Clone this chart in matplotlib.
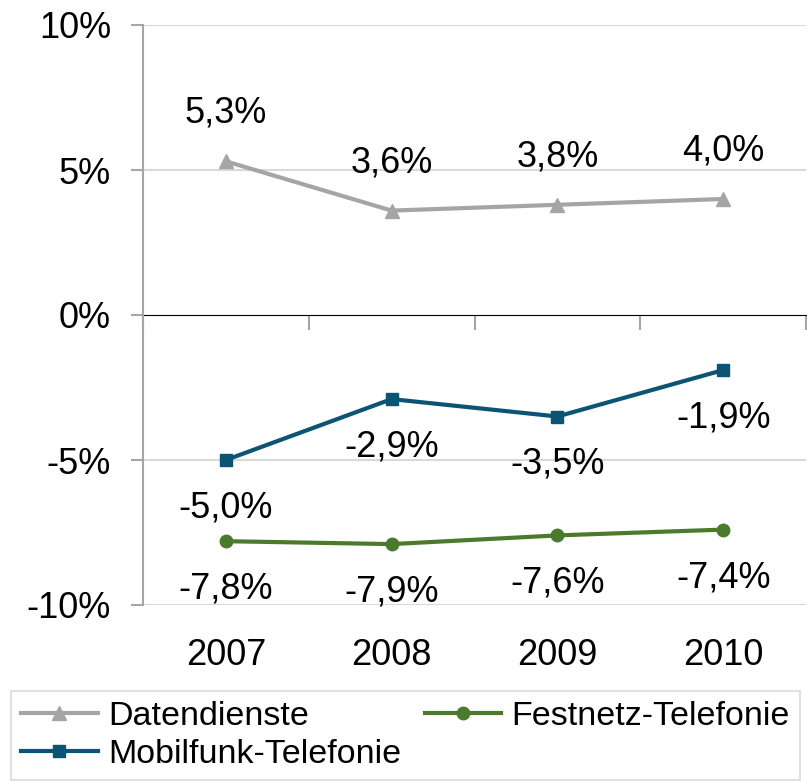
import numpy as np
import matplotlib
matplotlib.use('Agg')
import matplotlib.pyplot as plt

plt.rcParams['font.family'] = ['Liberation Sans', 'DejaVu Sans']

years = ['2007', '2008', '2009', '2010']
daten = [5.3, 3.6, 3.8, 4.0]
festnetz = [-7.8, -7.9, -7.6, -7.4]
mobilfunk = [-5.0, -2.9, -3.5, -1.9]
yticks = [-10, -5, 0, 5, 10]

C_DATEN = '#a5a5a5'
C_FEST = '#4b7a2d'
C_MOBIL = '#0c5473'
AXIS = '#a6a6a6'
GRID = '#d9d9d9'

fig = plt.figure(figsize=(8.07, 7.81), dpi=100)
ax = fig.add_axes([143 / 807, 1 - 605 / 781, 663 / 807, 580 / 781])

x = np.arange(len(years))
ax.set_xlim(-0.5, len(years) - 0.5)
ax.set_ylim(-10, 10)

# gridlines (0 line is drawn as axis)
for v in yticks:
    if v != 0:
        ax.axhline(v, color=GRID, lw=1.5, zorder=0)

l1, = ax.plot(x, daten, color=C_DATEN, lw=3, marker='^', ms=10, label='Datendienste', zorder=3)
l2, = ax.plot(x, festnetz, color=C_FEST, lw=3, marker='o', ms=9, label='Festnetz-Telefonie', zorder=3)
l3, = ax.plot(x, mobilfunk, color=C_MOBIL, lw=3, marker='s', ms=9, label='Mobilfunk-Telefonie', zorder=3)

def fmt(v):
    return f'{v:.1f}%'.replace('.', ',')

off = 34.5
for xi, v in zip(x, daten):
    ax.annotate(fmt(v), (xi, v), xytext=(0, off), textcoords='offset points',
                ha='center', va='center', fontsize=26)
for xi, v in zip(x, festnetz):
    ax.annotate(fmt(v), (xi, v), xytext=(0, -off), textcoords='offset points',
                ha='center', va='center', fontsize=26)
for xi, v in zip(x, mobilfunk):
    ax.annotate(fmt(v), (xi, v), xytext=(0, -off), textcoords='offset points',
                ha='center', va='center', fontsize=26)

# y axis
ax.set_yticks(yticks)
ax.set_yticklabels([f'{v}%' for v in yticks], fontsize=26)
ax.tick_params(axis='y', length=9, width=1.5, color=AXIS, pad=14)
for s in ['top', 'right', 'bottom']:
    ax.spines[s].set_visible(False)
ax.spines['left'].set_color(AXIS)
ax.spines['left'].set_linewidth(1.5)

# category labels at the bottom
ax.set_xticks(x)
ax.set_xticklabels(years, fontsize=26)
ax.tick_params(axis='x', length=0, pad=24)

# category axis crossing at 0%
sec = ax.secondary_xaxis(0.5)
bounds = np.arange(-0.5, len(years), 1.0)
sec.set_xticks(bounds, labels=[''] * len(bounds))
sec.tick_params(axis='x', direction='in', length=11, width=1.5, color=AXIS)
sec.spines['bottom'].set_color(AXIS)
sec.spines['bottom'].set_linewidth(1.5)

leg = fig.legend([l1, l3, l2], ['Datendienste', 'Mobilfunk-Telefonie', 'Festnetz-Telefonie'],
                 ncol=2, loc='upper left', bbox_to_anchor=(11 / 807, 1 - 691 / 781),
                 fontsize=24.5, frameon=True, fancybox=False, handlelength=2.25,
                 handletextpad=0.3, columnspacing=0.7, borderpad=0.3, labelspacing=0.2,
                 borderaxespad=0)
leg.get_frame().set_edgecolor(GRID)
leg.get_frame().set_linewidth(1.5)

fig.savefig('out.png', dpi=100)
